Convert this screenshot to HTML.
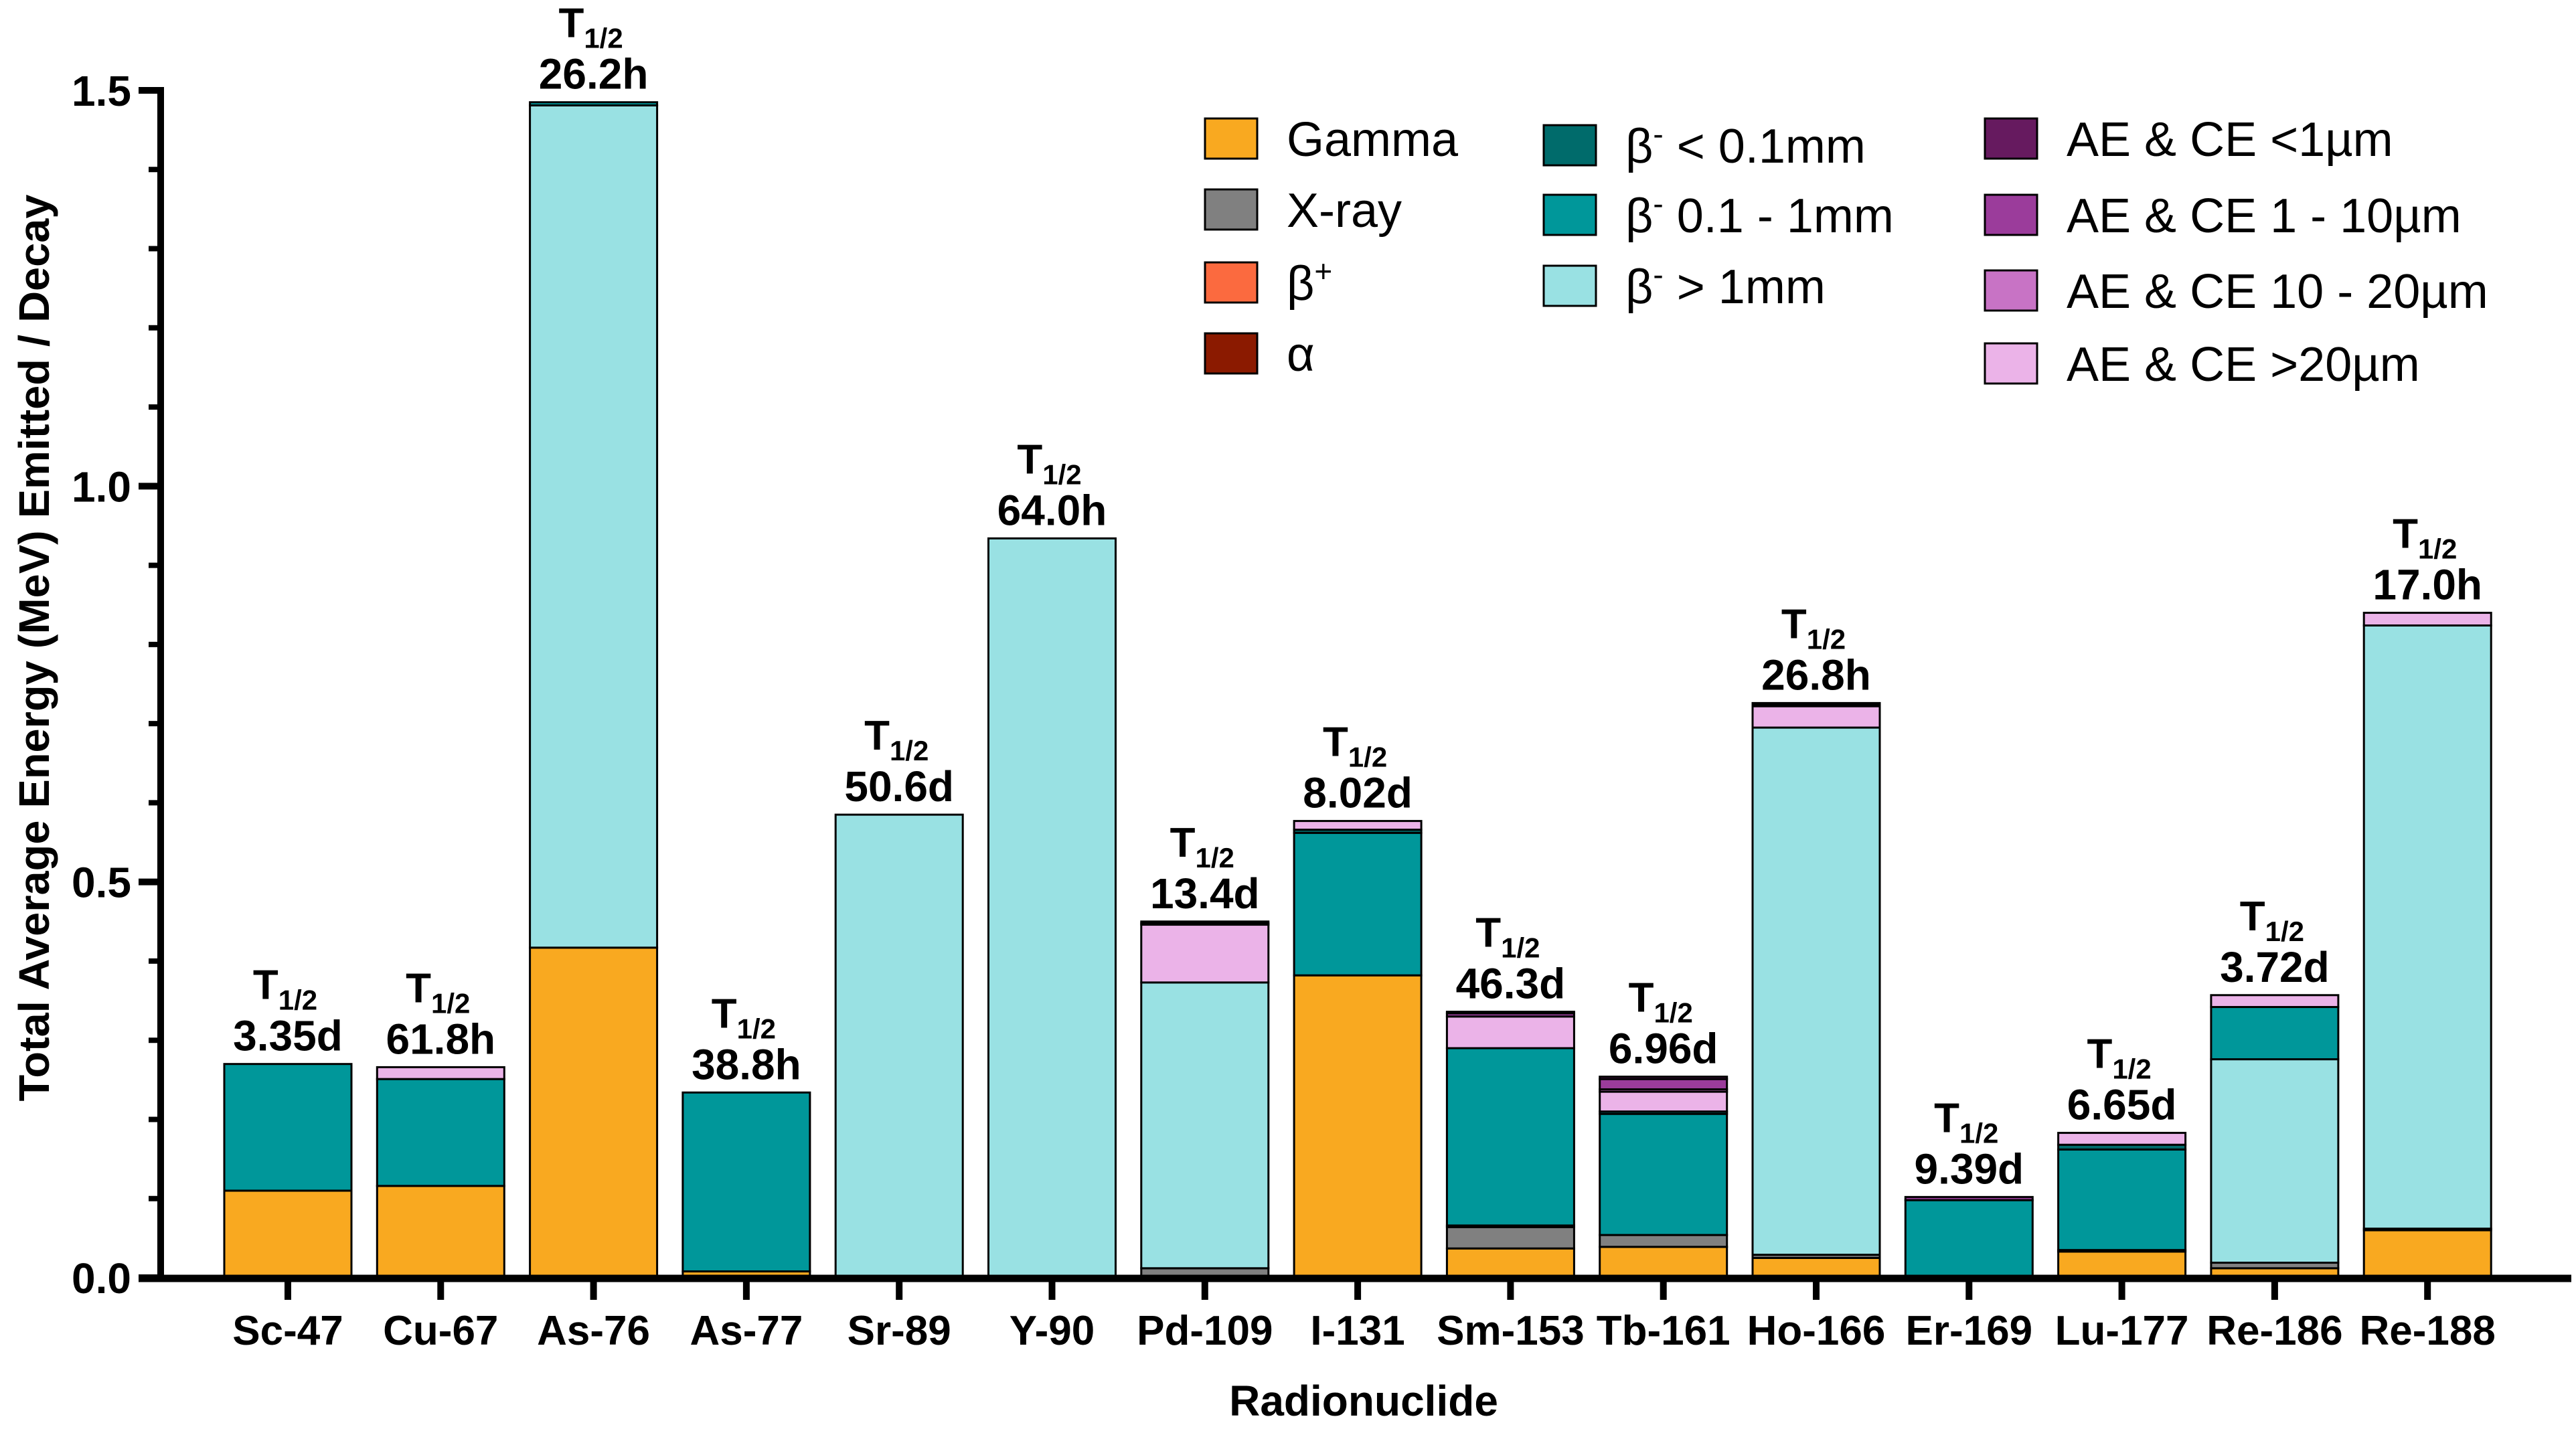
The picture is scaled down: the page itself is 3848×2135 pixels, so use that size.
<!DOCTYPE html>
<html><head><meta charset="utf-8"><style>
html,body{margin:0;padding:0;background:#fff;}
svg{display:block;font-family:"Liberation Sans",sans-serif;}
</style></head><body>
<svg id="chart" width="3848" height="2135" viewBox="0 0 3848 2135" xmlns="http://www.w3.org/2000/svg">
<g id="bars"></g>
<g id="axes"></g>
<g id="labels"></g>
<g id="legend"></g>
<text transform="translate(73,968) rotate(-90)" text-anchor="middle" font-weight="bold" font-size="64" textLength="1355" lengthAdjust="spacingAndGlyphs">Total Average Energy (MeV) Emitted / Decay</text>
<text x="2037" y="2115" text-anchor="middle" font-weight="bold" font-size="64">Radionuclide</text>
</svg>
<script>
const categories = ["Sc-47","Cu-67","As-76","As-77","Sr-89","Y-90","Pd-109","I-131","Sm-153","Tb-161","Ho-166","Er-169","Lu-177","Re-186","Re-188"];
const halfLives = ["3.35d","61.8h","26.2h","38.8h","50.6d","64.0h","13.4d","8.02d","46.3d","6.96d","26.8h","9.39d","6.65d","3.72d","17.0h"];
const seriesNames = ["Gamma","X-ray","β+","α","β- > 1mm","β- 0.1 - 1mm","β- < 0.1mm","AE & CE >20µm","AE & CE 10 - 20µm","AE & CE 1 - 10µm","AE & CE <1µm"];
const seriesColors = ["#f9a920","#808080","#fb6a3f","#8b1a00","#99e1e3","#00979a","#006b6b","#ebb3e8","#c873c5","#9b3c9b","#661a5f"];
const gamma    = [0.110,0.116,0.417,0.008,0,0,0.002,0.382,0.037,0.039,0.025,0,0.033,0.012,0.060];
const xray     = [0,0,0,0,0,0,0.010,0,0.027,0.015,0.004,0,0.002,0.007,0.002];
const betaPlus = [0,0,0,0,0,0,0,0,0,0,0,0,0,0,0];
const alpha    = [0,0,0,0,0,0,0,0,0,0,0,0,0,0,0];
const betaGt1  = [0,0,1.064,0,0.585,0.934,0.361,0,0.002,0,0.666,0,0,0.257,0.762];
const beta01   = [0.160,0.135,0.004,0.226,0,0,0,0.180,0.224,0.153,0,0.098,0.127,0.066,0];
const betaLt01 = [0,0,0,0,0,0,0,0.004,0,0.003,0,0,0.006,0,0];
const ae20     = [0,0.015,0,0,0,0,0.073,0.011,0.040,0.025,0.027,0,0.015,0.015,0.016];
const ae10_20  = [0,0,0,0,0,0,0,0,0,0.003,0,0,0,0,0];
const ae1_10   = [0,0,0,0,0,0,0.002,0,0.004,0.013,0.002,0.004,0,0,0];
const ae1      = [0,0,0,0,0,0,0.002,0,0.002,0.003,0.002,0,0,0,0];
const yTicks = [0,0.5,1.0,1.5];
const yTickLabels = ["0.0","0.5","1.0","1.5"];

const series = [gamma,xray,betaPlus,alpha,betaGt1,beta01,betaLt01,ae20,ae10_20,ae1_10,ae1];
const NS="http://www.w3.org/2000/svg";
const Y0=1909, Y15=135;
function yScale(v){return Y0-(Y0-Y15)*v/1.5;}
function xScale(i){return 430+i*228.3;}
const BW=190;
function mk(tag,attrs,parent){const e=document.createElementNS(NS,tag);for(const k in attrs)e.setAttribute(k,attrs[k]);parent.appendChild(e);return e;}
const gb=document.getElementById('bars'), ga=document.getElementById('axes'), gl=document.getElementById('labels'), gL=document.getElementById('legend');

categories.forEach((c,i)=>{
  let cum=0;
  series.forEach((s,k)=>{
    const v=s[i]; if(!v) return;
    const r=mk('rect',{x:xScale(i)-BW/2,y:yScale(cum+v),width:BW,height:yScale(cum)-yScale(cum+v),fill:seriesColors[k],stroke:'#000','stroke-width':3},gb);
    
    
    cum+=v;
  });
  const top=yScale(cum);
  const t1=mk('text',{x:xScale(i)-4,y:top-97,'text-anchor':'middle','font-weight':'bold','font-size':62},gl);
  
  
  t1.textContent='T';
  const sub=mk('tspan',{'font-size':42,dy:16},t1); sub.textContent='1/2';
  const t2=mk('text',{x:xScale(i),y:top-20,'text-anchor':'middle','font-weight':'bold','font-size':64},gl);
  
  
  t2.textContent=halfLives[i];
  const tk=mk('line',{x1:xScale(i),x2:xScale(i),y1:Y0,y2:1942,stroke:'#000','stroke-width':10},ga);
  
  
  const lb=mk('text',{x:xScale(i),y:2009,'text-anchor':'middle','font-weight':'bold','font-size':62},ga);
  
  
  lb.textContent=c;
});
const ya=mk('line',{x1:240,x2:240,y1:130,y2:1915,stroke:'#000','stroke-width':10},ga);


const xa=mk('line',{x1:207,x2:3841,y1:1910,y2:1910,stroke:'#000','stroke-width':11},ga);


for(let m=1;m<15;m++){ if(m%5===0) continue;
  const t=mk('line',{x1:222,x2:240,y1:yScale(m/10),y2:yScale(m/10),stroke:'#000','stroke-width':8},ga);
  
  
}
yTicks.forEach((v,j)=>{
  const t=mk('line',{x1:207,x2:240,y1:yScale(v),y2:yScale(v),stroke:'#000','stroke-width':10},ga);
  
  
  const l=mk('text',{x:196,y:yScale(v)+23,'text-anchor':'end','font-weight':'bold','font-size':64},ga);
  
  
  l.textContent=yTickLabels[j];
});
const legendPos=[[1800,207],[1800,313],[1800,422],[1800,528],[2306,427],[2306,321],[2306,217],[2965,543],[2965,434],[2965,321],[2965,207]];
const legendHtml=["Gamma","X-ray","β<tspan font-size='46' dy='-27'>+</tspan>","α","β<tspan font-size='46' dy='-27'>-</tspan><tspan dy='27'> &gt; 1mm</tspan>","β<tspan font-size='46' dy='-27'>-</tspan><tspan dy='27'> 0.1 - 1mm</tspan>","β<tspan font-size='46' dy='-27'>-</tspan><tspan dy='27'> &lt; 0.1mm</tspan>","AE &amp; CE &gt;20µm","AE &amp; CE 10 - 20µm","AE &amp; CE 1 - 10µm","AE &amp; CE &lt;1µm"];
legendPos.forEach((p,k)=>{
  const g=mk('g',{},gL);
  
  
  mk('rect',{x:p[0],y:p[1]-30,width:78,height:60,fill:seriesColors[k],stroke:'#000','stroke-width':3},g);
  const t=mk('text',{x:p[0]+122,y:p[1]+26,'font-size':72},g);
  t.innerHTML=legendHtml[k];
});
</script>
</body></html>
